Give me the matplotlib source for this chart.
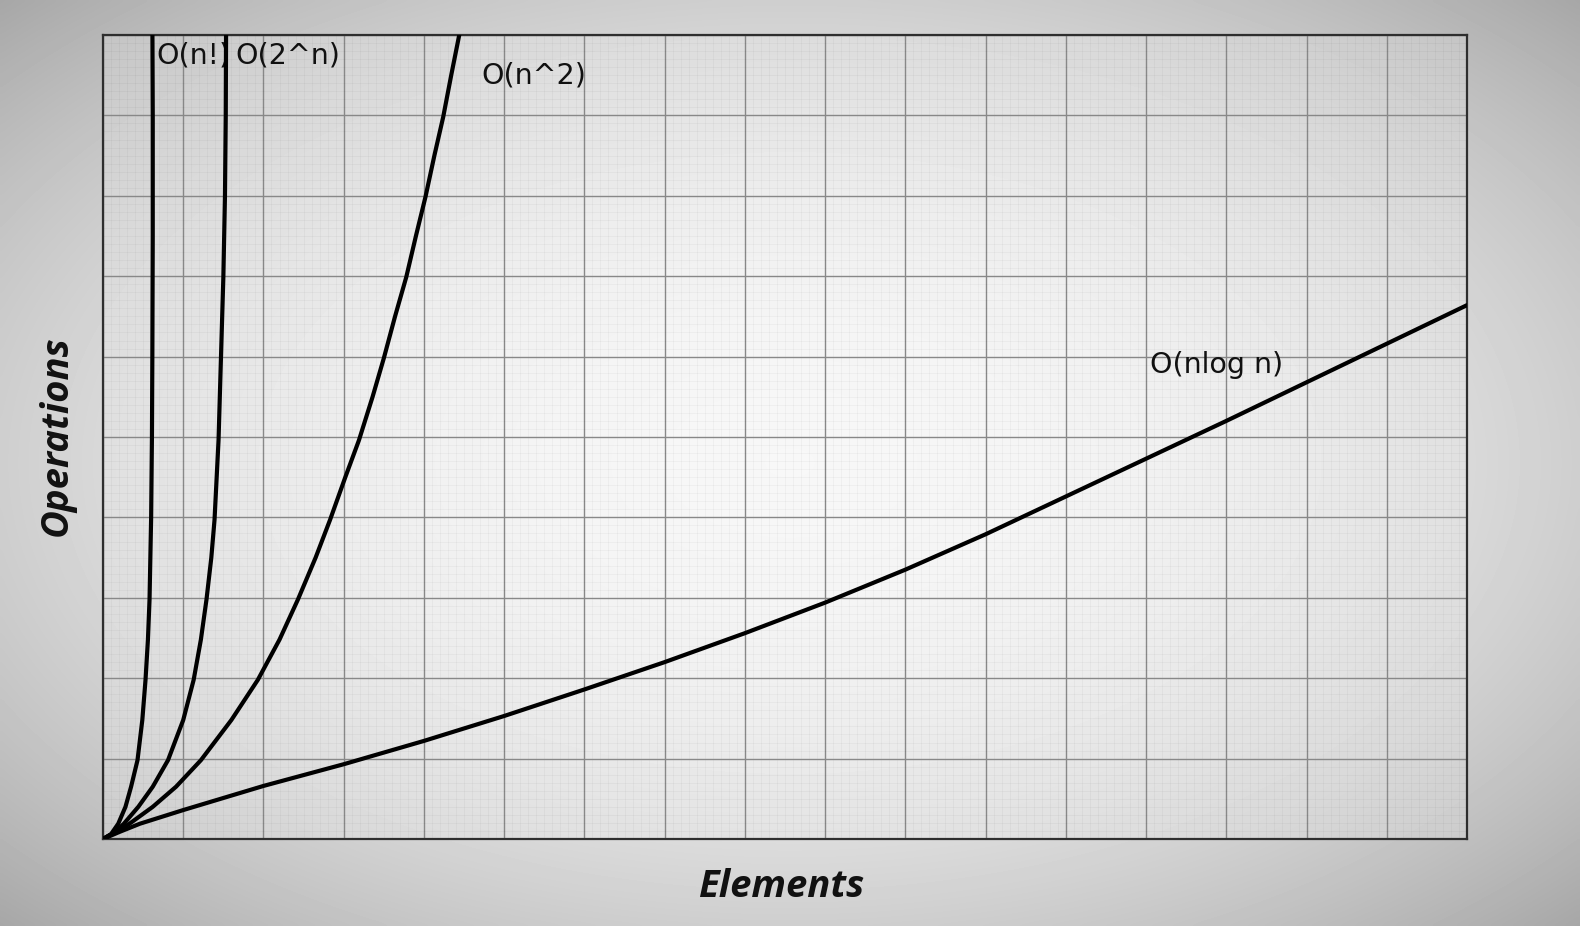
import numpy as np
import matplotlib.pyplot as plt
from matplotlib.ticker import MultipleLocator

# curves (x in columns, y in rows)
fact_x = [0, 0.10, 0.19, 0.28, 0.35, 0.43, 0.49, 0.53, 0.56, 0.58, 0.60, 0.61,
          0.615, 0.62, 0.62, 0.615]
fact_y = [0, 0.06, 0.19, 0.40, 0.65, 0.98, 1.48, 1.98, 2.48, 2.98, 4.0, 5.0,
          6.0, 7.5, 9.0, 10.3]

exp_x = [0, 0.14, 0.26, 0.44, 0.62, 0.81, 1.0, 1.13, 1.22, 1.29, 1.35, 1.39,
         1.44, 1.47, 1.50, 1.52, 1.53, 1.535]
exp_y = [0, 0.08, 0.19, 0.40, 0.65, 0.98, 1.48, 1.98, 2.48, 2.98, 3.5, 3.97,
         4.96, 5.98, 6.99, 7.99, 9.0, 10.3]

sq_x = [0, 0.17, 0.33, 0.62, 0.91, 1.22, 1.60, 1.93, 2.20, 2.43, 2.65, 2.83,
        3.02, 3.19, 3.36, 3.50, 3.64, 3.78, 3.90, 4.02, 4.13, 4.24, 4.34, 4.44, 4.50]
sq_y = [0, 0.09, 0.19, 0.40, 0.65, 0.98, 1.48, 1.98, 2.48, 2.98, 3.5, 3.97,
        4.5, 4.96, 5.5, 5.98, 6.5, 6.99, 7.5, 7.99, 8.5, 8.98, 9.5, 10.0, 10.3]

nlog_x = [0, 0.21, 0.46, 1, 2, 3, 4, 5, 6, 7, 8, 9, 10, 11, 12, 13, 14, 15, 16, 17]
nlog_y = [0, 0.09, 0.19, 0.36, 0.66, 0.93, 1.22, 1.53, 1.86, 2.20, 2.56, 2.94,
          3.35, 3.79, 4.26, 4.73, 5.20, 5.68, 6.16, 6.64]

labels = ["O(n!)", "O(2^n)", "O(n^2)", "O(nlog n)"]
label_x = [0.66, 1.645, 4.71, 13.05]
label_y = [9.75, 9.75, 9.50, 5.90]

fig = plt.figure(figsize=(15.8, 9.26), dpi=100)

# radial gray background
bg = fig.add_axes([0, 0, 1, 1])
gx, gy = np.meshgrid(np.linspace(-1, 1, 400), np.linspace(-1, 1, 240))
r2 = (gx ** 2 + gy ** 2) / 2
shade = 0.965 - 0.31 * r2
bg.imshow(shade, cmap='gray', vmin=0, vmax=1, aspect='auto', extent=[0, 1, 0, 1],
          interpolation='bicubic')
bg.set_axis_off()

ax = fig.add_axes([103 / 1580, 87 / 926, 1364 / 1580, 804 / 926])
ax.set_facecolor((1, 1, 1, 0.2))
ax.set_xlim(0, 17)
ax.set_ylim(0, 10)

ax.xaxis.set_major_locator(MultipleLocator(1))
ax.yaxis.set_major_locator(MultipleLocator(1))
ax.xaxis.set_minor_locator(MultipleLocator(0.1))
ax.yaxis.set_minor_locator(MultipleLocator(0.1))
ax.grid(which='minor', color='black', alpha=0.045, linewidth=0.5)
ax.grid(which='major', color='#888888', linewidth=1.0)
ax.tick_params(which='both', length=0, labelbottom=False, labelleft=False)
ax.set_axisbelow(True)
for sp in ax.spines.values():
    sp.set_color('#2e2e2e')
    sp.set_linewidth(1.6)

for xs, ys in [(fact_x, fact_y), (exp_x, exp_y), (sq_x, sq_y), (nlog_x, nlog_y)]:
    ax.plot(xs, ys, color='black', linewidth=3.0, solid_capstyle='round',
            solid_joinstyle='round', zorder=3)

for t, x, y in zip(labels, label_x, label_y):
    ax.text(x, y, t, fontsize=20.5, color='#111111', ha='left', va='center',
            family='DejaVu Sans', zorder=2)

fig.text(57 / 1580, 1 - 436 / 926, "Operations", rotation=90, ha='center', va='center',
         fontsize=27.5, fontweight='bold', fontstyle='italic', family='Open Sans',
         color='#111111')
fig.text(781 / 1580, 1 - 887 / 926, "Elements", ha='center', va='center',
         fontsize=27.5, fontweight='bold', fontstyle='italic', family='Open Sans',
         color='#111111')

fig.savefig('out.png', dpi=100)
